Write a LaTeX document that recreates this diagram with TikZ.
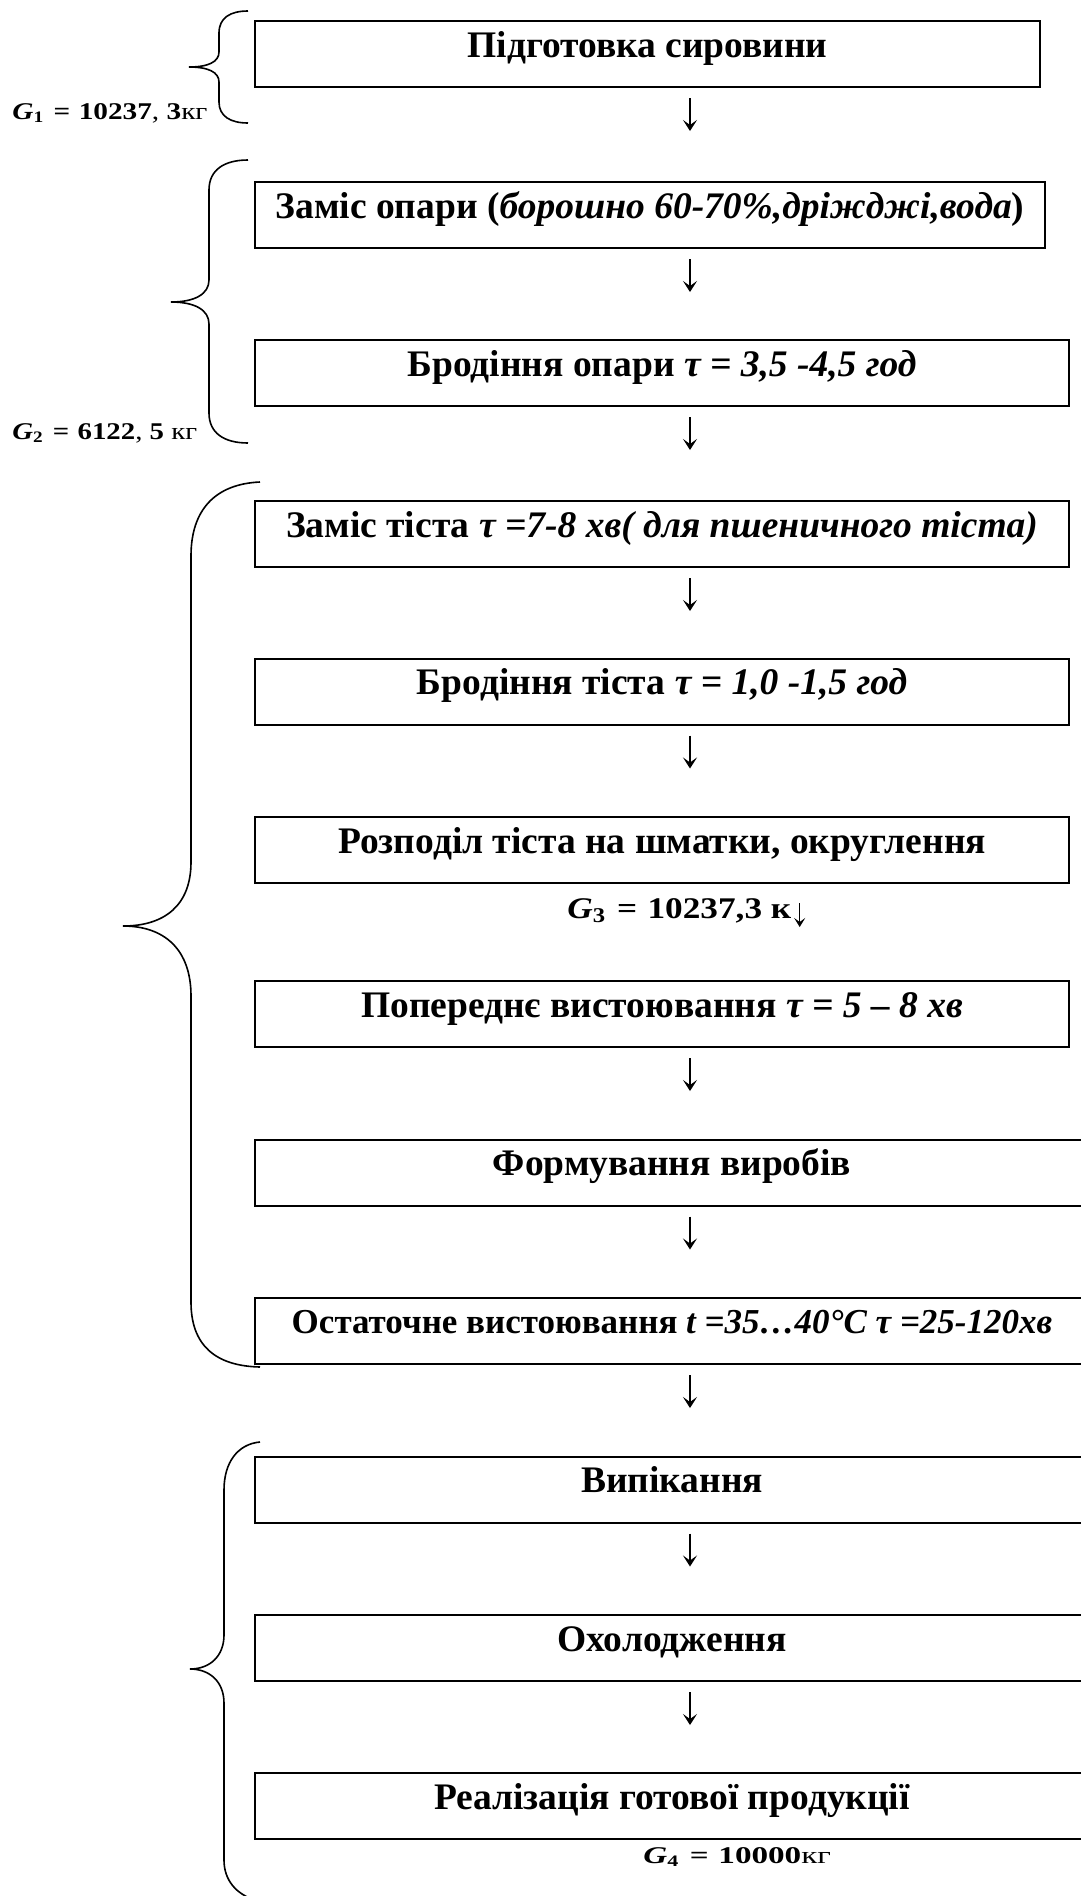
\documentclass[tikz,border=0pt]{standalone}
\usepackage{fontspec}
\usepackage{graphicx}
\setmainfont{Liberation Serif}
\usetikzlibrary{arrows.meta,calc}

% Mass labels: bold serif, widened by the factor given as #1
\newcommand{\masslabel}[4]{%
  \scalebox{#1}[1]{\bfseries\itshape G\textsubscript{\upshape#2}%
  \hspace{0.3em}=\hspace{0.3em}\upshape#3\mdseries #4}}

\begin{document}
\begin{tikzpicture}[x=0.5pt,y=-0.5pt,
  box/.style={draw, line width=1pt, inner sep=0pt, minimum height=33pt},
  lbl/.style={anchor=base, inner sep=0pt, font=\fontsize{18.75pt}{22pt}\selectfont\bfseries},
  mass/.style={anchor=base west, inner sep=0pt, font=\fontsize{12pt}{14pt}\selectfont},
  flow/.style={line width=0.9pt, -{Stealth[length=5.5pt,width=7pt,inset=2.5pt]}, shorten <=5pt},
  brace/.style={line width=0.8pt}]

\useasboundingbox (0,0) rectangle (1081,1896);
\clip (0,0) rectangle (1081,1896);

\coordinate (ax) at (690,0);

% process steps
\node[box, minimum width=392.5pt] (b1)  at (647.5,54)   {};
\node[box, minimum width=395pt]   (b2)  at (650,215)    {};
\node[box, minimum width=407pt]   (b3)  at (662,373)    {};
\node[box, minimum width=407pt]   (b4)  at (662,534)    {};
\node[box, minimum width=407pt]   (b5)  at (662,691.5)  {};
\node[box, minimum width=407pt]   (b6)  at (662,850)    {};
\node[box, minimum width=407pt]   (b7)  at (662,1014)   {};
\node[box, minimum width=417pt]   (b8)  at (672,1172.5) {};
\node[box, minimum width=417pt]   (b9)  at (672,1331)   {};
\node[box, minimum width=417pt]   (b10) at (672,1489.5) {};
\node[box, minimum width=417pt]   (b11) at (672,1648)   {};
\node[box, minimum width=417pt]   (b12) at (672,1806)   {};

\node[lbl] (t1)  at ([yshift=-18.5pt]b1.north)  {Підготовка сировини};
\node[lbl] (t2)  at ([yshift=-18.5pt]b2.north)  {Заміс опари (\textit{борошно 60-70\%,дріжджі,вода})};
\node[lbl] (t3)  at ([yshift=-18.5pt]b3.north)  {Бродіння опари \textit{τ = 3,5 -4,5 год}};
\node[lbl] (t4)  at ([yshift=-18.5pt]b4.north)  {Заміс тіста \textit{τ =7-8 хв( для пшеничного тіста)}};
\node[lbl] (t5)  at ([yshift=-18.5pt]b5.north)  {Бродіння тіста \textit{τ = 1,0 -1,5 год}};
\node[lbl] (t6)  at ([yshift=-18.5pt]b6.north)  {Розподіл тіста на шматки, округлення};
\node[lbl] (t7)  at ([yshift=-18.5pt]b7.north)  {Попереднє вистоювання \textit{τ = 5 – 8 хв}};
\node[lbl] (t8)  at ([yshift=-18.5pt]b8.north)  {Формування виробів};
\node[lbl, font=\fontsize{17.5pt}{21pt}\selectfont\bfseries] (t9)
  at ([yshift=-18pt]b9.north) {Остаточне вистоювання \textit{t =35…40°C τ =25-120хв}};
\node[lbl] (t10) at ([yshift=-18.5pt]b10.north) {Випікання};
\node[lbl] (t11) at ([yshift=-18.5pt]b11.north) {Охолодження};
\node[lbl] (t12) at ([yshift=-18.5pt]b12.north) {Реалізація готової продукції};

% flow arrows
\foreach \a/\b in {b1/b2,b2/b3,b3/b4,b4/b5,b5/b6,b7/b8,b8/b9,b9/b10,b10/b11,b11/b12}
  \draw[flow] (\a.south -| ax) -- ++(0,43);

% mass balance labels
\node[mass] (g1) at (12,119)  {\masslabel{1.22}{1}{10237}{, \textbf{3}кг}};
\node[mass] (g2) at (12,439)  {\masslabel{1.2}{2}{6122}{, \textbf{5} кг}};
\node[mass, font=\fontsize{15pt}{18pt}\selectfont] (g3) at (567,918)
  {\masslabel{1.175}{3}{10237,3}{ \textbf{к}}};
\node[mass] (g4) at (643,1863) {\masslabel{1.38}{4}{10000}{кг}};

% short arrow printed right after the G3 value
\draw[line width=0.7pt, -{Stealth[length=4.5pt,width=5.5pt,inset=2pt]}]
  ([xshift=4pt,yshift=7.5pt]g3.base east) -- ([xshift=4pt,yshift=-4.5pt]g3.base east);

% grouping braces
\draw[brace] (248,11) .. controls (230,11) and (219,18) .. (219,33) -- (219,52)
  .. controls (219,62) and (208,67) .. (189,67)
  .. controls (208,67) and (219,72) .. (219,82) -- (219,102)
  .. controls (219,116) and (230,123) .. (248,123);
\draw[brace] (248,160) .. controls (224,160) and (209,170) .. (209,190) -- (209,280)
  .. controls (209,294) and (195,302) .. (171,302)
  .. controls (195,302) and (209,310) .. (209,324) -- (209,413)
  .. controls (209,433) and (224,443) .. (248,443);
\draw[brace] (260,482) .. controls (215,484) and (191,510) .. (191,556) -- (191,862)
  .. controls (191,905) and (165,926) .. (123,926)
  .. controls (165,926) and (191,950) .. (191,996) -- (191,1302)
  .. controls (191,1345) and (215,1366) .. (260,1367);
\draw[brace] (260,1442) .. controls (238,1444) and (224,1462) .. (224,1490) -- (224,1635)
  .. controls (224,1656) and (210,1669) .. (190,1669)
  .. controls (210,1669) and (224,1682) .. (224,1703) -- (224,1860)
  .. controls (224,1880) and (236,1894) .. (255,1900);
\end{tikzpicture}
\end{document}
